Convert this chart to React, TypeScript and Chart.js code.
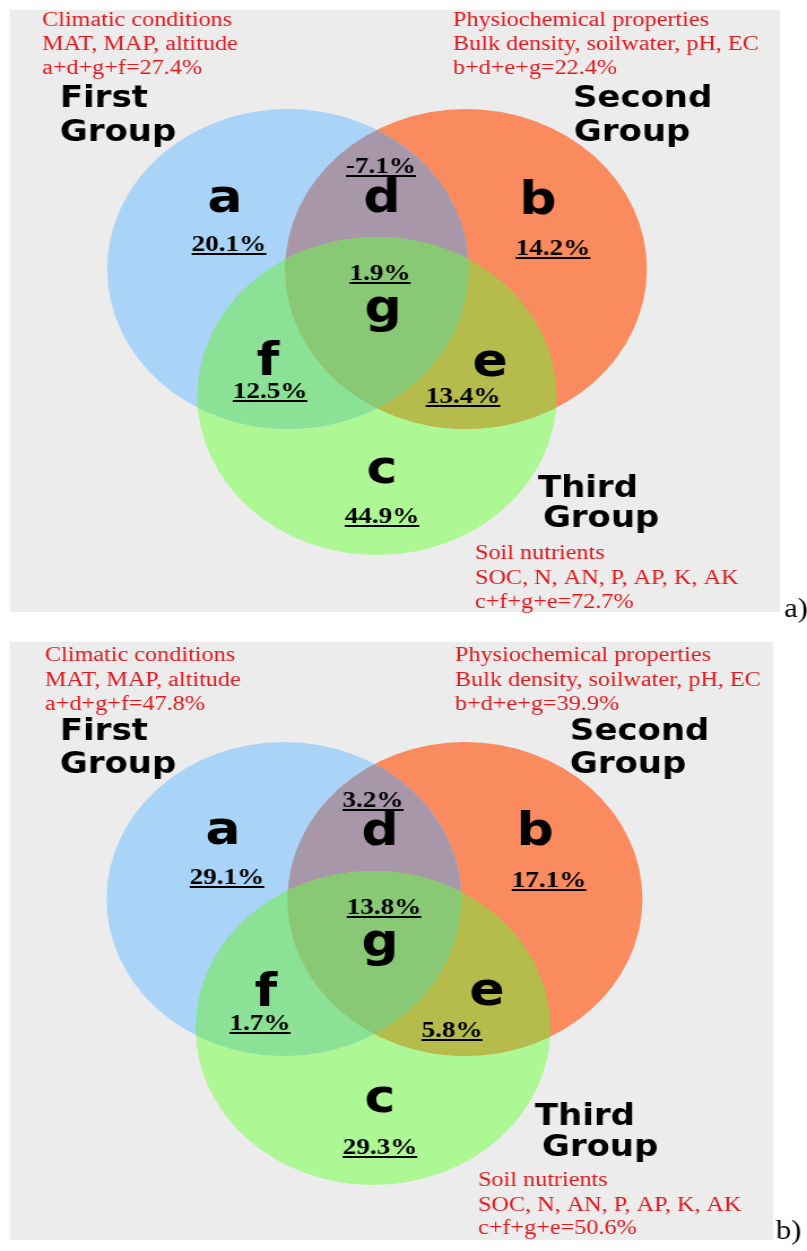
import React, { useEffect, useRef } from "react";
import { Chart, registerables } from "chart.js";

Chart.register(...registerables);

// ---------------- data ----------------
const GROUP_NAMES = ["First", "Second", "Third"];
const GROUP_CATEGORIES = ["Climatic conditions", "Physiochemical properties", "Soil nutrients"];
const GROUP_VARIABLES = ["MAT, MAP, altitude", "Bulk density, soilwater, pH, EC", "SOC, N, AN, P, AP, K, AK"];
const GROUP_SUM_TERMS = ["a+d+g+f", "b+d+e+g", "c+f+g+e"];
const REGION_LETTERS = ["a", "b", "c", "d", "e", "f", "g"];
const SHARES_A = [20.1, 14.2, 44.9, -7.1, 13.4, 12.5, 1.9];
const SHARES_B = [29.1, 17.1, 29.3, 3.2, 5.8, 1.7, 13.8];
const GROUP_TOTALS_A = [27.4, 22.4, 72.7];
const GROUP_TOTALS_B = [47.8, 39.9, 50.6];
const PANEL_TAGS = ["a)", "b)"];

// ---------------- styles / layout ----------------
const PAGE_W = 807;
const INNER_W = 714; // canvas drawn narrower, displayed stretched to PAGE_W
const BG = "#ececec";
const RED = "#e0191f";
const SET_COLORS = ["#a9d4f7", "#fa8b5f", "#adf794"];
const D_COLOR = "#a797a9";
const E_COLOR = "#b5bc4c";
const F_COLOR = "#8be196";
const G_COLOR = "#89c874";
const RED_STRETCH = 1.07;

type Pt = [number, number];
interface Layout {
  top: number;
  height: number;
  bg: [number, number, number, number];
  circles: { x: number; y: number; r: number }[];
  letters: Pt[];
  shares: Pt[];
  textBlocks: { x: number; ys: number[] }[];
  names: { first: Pt; second: Pt }[];
  tag: Pt;
}

const LAYOUT_A: Layout = {
  top: 0,
  height: 625,
  bg: [10, 10, 780, 612],
  circles: [
    { x: 288, y: 269, r: 160 },
    { x: 466, y: 269, r: 160 },
    { x: 377, y: 396, r: 159 },
  ],
  letters: [[225, 212], [538, 214], [382, 483], [382, 212], [490, 376], [268, 375], [383, 322]],
  shares: [[229, 251], [553, 255], [382, 523], [381, 173], [463, 403], [270, 398], [380, 280]],
  textBlocks: [
    { x: 42, ys: [26, 50, 74] },
    { x: 453, ys: [26, 50, 74] },
    { x: 475, ys: [559, 584, 608] },
  ],
  names: [
    { first: [60, 107], second: [60, 141] },
    { first: [573, 107], second: [574, 141] },
    { first: [538, 497], second: [543, 527] },
  ],
  tag: [784, 610],
};

const LAYOUT_B: Layout = {
  top: 625,
  height: 626,
  bg: [10, 642, 773, 1240],
  circles: [
    { x: 284, y: 899, r: 157 },
    { x: 465, y: 899, r: 157 },
    { x: 373, y: 1028, r: 157 },
  ],
  letters: [[223, 844], [535, 845], [380, 1112], [380, 845], [487, 1005], [266, 1006], [380, 956]],
  shares: [[227, 884], [549, 887], [380, 1154], [373, 807], [452, 1037], [260, 1030], [384, 914]],
  textBlocks: [
    { x: 45, ys: [661, 686, 710] },
    { x: 455, ys: [661, 686, 710] },
    { x: 478, ys: [1186, 1211, 1234] },
  ],
  names: [
    { first: [60, 740], second: [60, 773] },
    { first: [570, 740], second: [570, 773] },
    { first: [535, 1125], second: [542, 1156] },
  ],
  tag: [776, 1232],
};

function VennPanel({ layout, shares, totals, tag }: { layout: Layout; shares: number[]; totals: number[]; tag: string }) {
  const ref = useRef<HTMLCanvasElement | null>(null);

  useEffect(() => {
    if (!ref.current) return;
    const L = layout;

    const plugin = {
      id: "vennDecor",
      beforeDraw(chart: any) {
        const ctx = chart.ctx;
        const xs = chart.scales.x;
        const ys = chart.scales.y;
        const x0 = xs.getPixelForValue(L.bg[0]);
        const x1 = xs.getPixelForValue(L.bg[2]);
        const y0 = ys.getPixelForValue(L.bg[1]);
        const y1 = ys.getPixelForValue(L.bg[3]);
        ctx.save();
        ctx.fillStyle = BG;
        ctx.fillRect(x0, y0, x1 - x0, y1 - y0);
        ctx.restore();
      },
      afterDatasetsDraw(chart: any) {
        const ctx = chart.ctx;
        const els = [0, 1, 2].map((i) => chart.getDatasetMeta(i).data[0] as any);
        const circ = (e: any) => {
          ctx.beginPath();
          ctx.arc(e.x, e.y, e.options.radius, 0, Math.PI * 2);
        };
        const inter = (idx: number[], color: string) => {
          ctx.save();
          for (let j = 0; j < idx.length - 1; j++) {
            circ(els[idx[j]]);
            ctx.clip();
          }
          circ(els[idx[idx.length - 1]]);
          ctx.fillStyle = color;
          ctx.fill();
          ctx.restore();
        };
        inter([0, 1], D_COLOR);
        inter([0, 2], F_COLOR);
        inter([1, 2], E_COLOR);
        inter([0, 1, 2], G_COLOR);
      },
      afterDraw(chart: any) {
        const ctx = chart.ctx;
        const px = (v: number) => chart.scales.x.getPixelForValue(v);
        const py = (v: number) => chart.scales.y.getPixelForValue(v);
        ctx.save();
        ctx.textBaseline = "alphabetic";

        // region letters
        ctx.fillStyle = "#000";
        ctx.textAlign = "center";
        ctx.font = 'bold 46px "DejaVu Sans"';
        REGION_LETTERS.forEach((l, i) => {
          ctx.fillText(l, px(L.letters[i][0]), py(L.letters[i][1]));
        });

        // shares, underlined
        ctx.font = 'bold 24px "Liberation Serif"';
        shares.forEach((v, i) => {
          const t = `${v.toFixed(1)}%`;
          const X = px(L.shares[i][0]);
          const Y = py(L.shares[i][1]);
          ctx.fillText(t, X, Y);
          const w = ctx.measureText(t).width;
          ctx.fillRect(X - w / 2, Y + 2, w, 2);
        });

        // group names
        ctx.textAlign = "left";
        ctx.font = 'bold 30px "DejaVu Sans"';
        GROUP_NAMES.forEach((n, i) => {
          const nm = L.names[i];
          ctx.fillText(n, px(nm.first[0]), py(nm.first[1]));
          ctx.fillText("Group", px(nm.second[0]), py(nm.second[1]));
        });

        // red description blocks
        ctx.fillStyle = RED;
        ctx.font = '20px "Liberation Serif"';
        L.textBlocks.forEach((b, i) => {
          const lines = [GROUP_CATEGORIES[i], GROUP_VARIABLES[i], `${GROUP_SUM_TERMS[i]}=${totals[i].toFixed(1)}%`];
          lines.forEach((s, j) => {
            ctx.save();
            ctx.translate(px(b.x), py(b.ys[j]));
            ctx.scale(RED_STRETCH, 1);
            ctx.fillText(s, 0, 0);
            ctx.restore();
          });
        });

        // panel tag
        ctx.fillStyle = "#000";
        ctx.textBaseline = "middle";
        ctx.font = '27px "Liberation Serif"';
        ctx.fillText(tag, px(L.tag[0]), py(L.tag[1]));
        ctx.restore();
      },
    };

    const chart = new Chart(ref.current, {
      type: "bubble",
      data: {
        datasets: L.circles.map((c, i) => ({
          label: GROUP_NAMES[i] + " Group",
          data: [{ x: c.x, y: c.y, r: c.r }],
          backgroundColor: SET_COLORS[i],
          borderWidth: 0,
          hoverRadius: 0,
          clip: false as any,
        })),
      },
      options: {
        animation: false,
        responsive: false,
        devicePixelRatio: 1,
        events: [],
        layout: { padding: 0, autoPadding: false },
        plugins: { legend: { display: false }, tooltip: { enabled: false }, title: { display: false } },
        scales: {
          x: { type: "linear", display: false, min: 0, max: PAGE_W },
          y: { type: "linear", display: false, min: L.top, max: L.top + L.height, reverse: true },
        },
      },
      plugins: [plugin as any],
    });
    return () => chart.destroy();
  }, [layout, shares, totals, tag]);

  return (
    <canvas
      ref={ref}
      width={INNER_W}
      height={layout.height}
      style={{
        position: "absolute",
        left: 0,
        top: layout.top,
        width: `${PAGE_W}px`,
        height: `${layout.height}px`,
        display: "block",
      }}
    />
  );
}

export default function App() {
  return (
    <div style={{ position: "absolute", left: 0, top: 0, width: PAGE_W, height: 1251, background: "#fff", overflow: "hidden" }}>
      <VennPanel layout={LAYOUT_A} shares={SHARES_A} totals={GROUP_TOTALS_A} tag={PANEL_TAGS[0]} />
      <VennPanel layout={LAYOUT_B} shares={SHARES_B} totals={GROUP_TOTALS_B} tag={PANEL_TAGS[1]} />
    </div>
  );
}
